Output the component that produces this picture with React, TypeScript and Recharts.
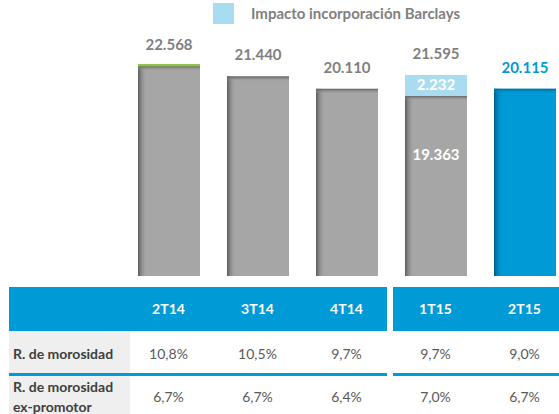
import React from "react"
import { BarChart, Bar, XAxis, YAxis, Cell, LabelList } from "recharts"

const periods = ["2T14", "3T14", "4T14", "1T15", "2T15"]
const baseValues = [22568, 21440, 20110, 19363, 20115]
const barclaysValues = [0, 0, 0, 2232, 0]
const totalValues = [22568, 21440, 20110, 21595, 20115]
const morosidad = ["10,8%", "10,5%", "9,7%", "9,7%", "9,0%"]
const morosidadExPromotor = ["6,7%", "6,7%", "6,4%", "7,0%", "6,7%"]
const legendLabel = "Impacto incorporación Barclays"

const data = periods.map((p, i) => ({
  name: p,
  base: baseValues[i],
  barclays: barclaysValues[i],
  total: totalValues[i],
}))

const GRAY = "#a6a6a6"
const BLUE = "#009ad6"
const LIGHT_BLUE = "#a9dcf1"
const LABEL_GRAY = "#7f7f7f"
const FONT = "Lato, 'Open Sans', sans-serif"

// chart geometry (the svg is wider than the page and clipped)
const CHART_W = 600
const LEFT = 124
const BAND = 89
const RIGHT = CHART_W - LEFT - BAND * periods.length

const fmt = (v: number) => v.toString().replace(/\B(?=(\d{3})+(?!\d))/g, ".")

const ShadedBar = (props: any) => {
  const { x, y, width, height, index } = props
  if (!height || height <= 0) return null
  const blue = index === 4
  return (
    <g>
      <rect x={x} y={y} width={width} height={height} fill={blue ? BLUE : GRAY} />
      <rect x={x} y={y} width={9} height={height} fill={blue ? "url(#leftBlue)" : "url(#leftGray)"} />
      <rect x={x} y={y} width={width} height={5} fill={blue ? "url(#topBlue)" : "url(#topGray)"} />
      {index === 0 && <rect x={x} y={y - 2} width={width} height={2.5} fill="#92c04f" />}
    </g>
  )
}

// labels drawn from the base series: total above, Barclays part and base inside
const BarLabels = (props: any) => {
  const { x, y, width, height, index } = props
  const ratio = height / baseValues[index]
  const extraH = barclaysValues[index] * ratio
  const topY = y - extraH
  const cx = x + width / 2
  return (
    <g fontFamily={FONT} fontWeight={700} fontSize={15} textAnchor="middle">
      <text x={cx} y={topY - 16} fill={index === 4 ? BLUE : LABEL_GRAY}>
        {fmt(totalValues[index])}
      </text>
      {barclaysValues[index] > 0 && (
        <>
          <text x={cx} y={y - extraH / 2 + 5} fill="#fff">
            {fmt(barclaysValues[index])}
          </text>
          <text x={cx} y={y + 64} fill="#fff">
            {fmt(baseValues[index])}
          </text>
        </>
      )}
    </g>
  )
}

const colCenter = (i: number) => LEFT + BAND * (i + 0.5)

const cellText: React.CSSProperties = {
  position: "absolute",
  width: 70,
  textAlign: "center",
  fontFamily: FONT,
  fontSize: 14,
  lineHeight: "20px",
}

export default function App() {
  return (
    <div style={{ position: "absolute", left: 0, top: 0, width: 559, height: 414, overflow: "hidden", background: "#fff" }}>
      <BarChart
        width={CHART_W}
        height={414}
        data={data}
        margin={{ top: 34, right: RIGHT, bottom: 138, left: LEFT }}
        barSize={62}
      >
        <defs>
          <linearGradient id="leftGray" x1="0" y1="0" x2="1" y2="0">
            <stop offset="0" stopColor="#5a5a5a" />
            <stop offset="1" stopColor={GRAY} stopOpacity={0} />
          </linearGradient>
          <linearGradient id="topGray" x1="0" y1="0" x2="0" y2="1">
            <stop offset="0" stopColor="#5e5e5e" />
            <stop offset="1" stopColor={GRAY} stopOpacity={0} />
          </linearGradient>
          <linearGradient id="leftBlue" x1="0" y1="0" x2="1" y2="0">
            <stop offset="0" stopColor="#005c86" />
            <stop offset="1" stopColor={BLUE} stopOpacity={0} />
          </linearGradient>
          <linearGradient id="topBlue" x1="0" y1="0" x2="0" y2="1">
            <stop offset="0" stopColor="#006a99" />
            <stop offset="1" stopColor={BLUE} stopOpacity={0} />
          </linearGradient>
        </defs>
        <XAxis dataKey="name" hide />
        <YAxis domain={[0, 26000]} hide />
        <Bar dataKey="base" stackId="a" shape={<ShadedBar />} isAnimationActive={false}>
          {data.map((d, i) => (
            <Cell key={d.name} fill={i === 4 ? BLUE : GRAY} />
          ))}
          <LabelList dataKey="base" content={<BarLabels />} />
        </Bar>
        <Bar dataKey="barclays" stackId="a" fill={LIGHT_BLUE} isAnimationActive={false} />
      </BarChart>

      {/* legend */}
      <div style={{ position: "absolute", left: 213, top: 3, width: 21, height: 21, background: LIGHT_BLUE }} />
      <div style={{ position: "absolute", left: 251, top: 3, fontFamily: FONT, fontWeight: 700, fontSize: 15, color: LABEL_GRAY, lineHeight: "21px" }}>
        {legendLabel}
      </div>

      {/* table header */}
      <div style={{ position: "absolute", left: 9, top: 287, width: 378, height: 44, background: BLUE }} />
      <div style={{ position: "absolute", left: 393, top: 287, width: 166, height: 44, background: BLUE }} />
      {periods.map((p, i) => (
        <div key={p} style={{ ...cellText, left: colCenter(i) - 35, top: 299, color: "#fff", fontWeight: 700 }}>
          {p}
        </div>
      ))}

      {/* row 1 */}
      <div style={{ position: "absolute", left: 9, top: 331, width: 121, height: 42, background: "#efefef" }} />
      <div style={{ position: "absolute", left: 13, top: 344, fontFamily: FONT, fontWeight: 700, fontSize: 14, color: "#404040", lineHeight: "20px" }}>
        R. de morosidad
      </div>
      {morosidad.map((v, i) => (
        <div key={i} style={{ ...cellText, left: colCenter(i) - 35, top: 344, color: "#595959" }}>
          {v}
        </div>
      ))}
      <div style={{ position: "absolute", left: 9, top: 373, width: 378, height: 3, background: BLUE }} />
      <div style={{ position: "absolute", left: 393, top: 373, width: 166, height: 3, background: BLUE }} />

      {/* row 2 */}
      <div style={{ position: "absolute", left: 9, top: 376, width: 121, height: 40, background: "#efefef" }} />
      <div style={{ position: "absolute", left: 13, top: 377, fontFamily: FONT, fontWeight: 700, fontSize: 14, color: "#404040", lineHeight: "20px" }}>
        R. de morosidad
        <br />
        ex-promotor
      </div>
      {morosidadExPromotor.map((v, i) => (
        <div key={i} style={{ ...cellText, left: colCenter(i) - 35, top: 387, color: "#595959" }}>
          {v}
        </div>
      ))}
    </div>
  )
}
